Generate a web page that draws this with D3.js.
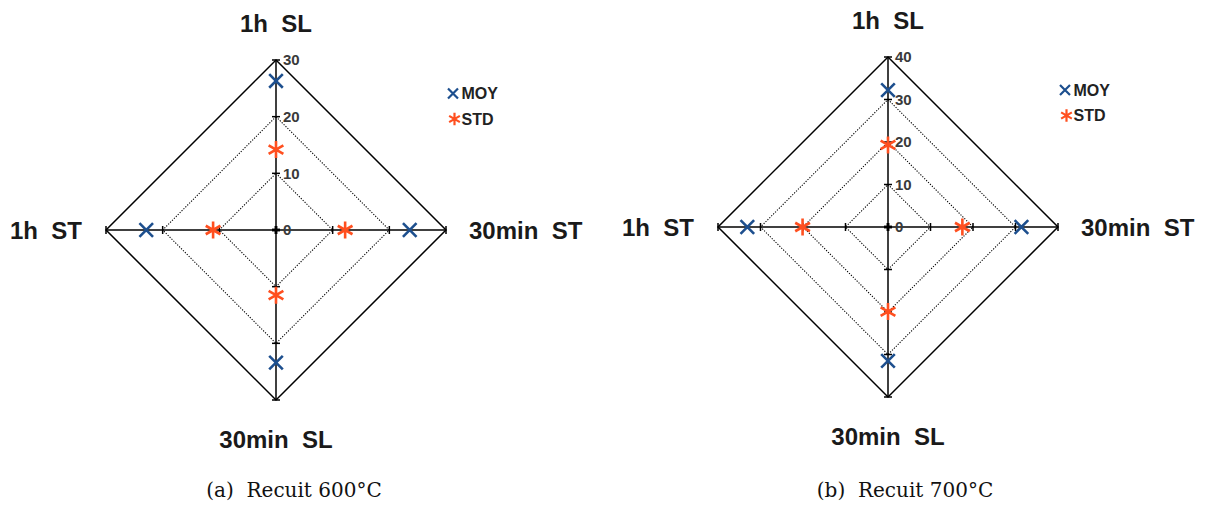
<!DOCTYPE html>
<html><head><meta charset="utf-8">
<script src="https://cdn.jsdelivr.net/npm/d3@7"></script>
<style>body{margin:0;background:#fff}svg{display:block}</style>
</head><body>
<svg id="c" width="1205" height="511"></svg>
<script>
// Axes clockwise from top
const categories = ["1h  SL", "30min  ST", "30min  SL", "1h  ST"];
const seriesNames = ["MOY", "STD"];
const moy600 = [26.3, 23.6, 23.4, 22.9];
const std600 = [14.2, 12.2, 11.5, 11.1];
const moy700 = [32.2, 31.4, 31.5, 33.1];
const std700 = [19.3, 17.5, 19.9, 20.1];
const ticks600 = [0, 10, 20, 30];
const ticks700 = [0, 10, 20, 30, 40];
const captions = ["(a)  Recuit 600°C", "(b)  Recuit 700°C"];

const charts = [
  {cx: 276, cy: 230, R: 170, ticks: ticks600, moy: moy600, std: std600, lx: 453, ly: 93.5, capx: 294, caption: captions[0]},
  {cx: 888, cy: 227, R: 170, ticks: ticks700, moy: moy700, std: std700, lx: 1065, ly: 90, capx: 905, caption: captions[1]}
];
const BLUE = "#1d4f8e", ORANGE = "#ff4f1f";
const SANS = "'Liberation Sans', Arial, sans-serif";
const svg = d3.select("#c");

function xMark(g, x, y, s, color, w) {
  g.append("path").attr("d", `M${x-s},${y-s}L${x+s},${y+s}M${x-s},${y+s}L${x+s},${y-s}`)
    .attr("stroke", color).attr("stroke-width", w).attr("fill", "none");
}
function starMark(g, x, y, s, color, w) {
  const d = [];
  for (let i = 0; i < 3; i++) {
    const a = Math.PI / 2 + i * Math.PI / 3;
    d.push(`M${x - s*Math.cos(a)},${y - s*Math.sin(a)}L${x + s*Math.cos(a)},${y + s*Math.sin(a)}`);
  }
  g.append("path").attr("d", d.join("")).attr("stroke", color).attr("stroke-width", w).attr("fill", "none");
}

charts.forEach(c => {
  const g = svg.append("g");
  const maxV = d3.max(c.ticks);
  const r = d3.scaleLinear().domain([0, maxV]).range([0, c.R]);
  const ang = d3.scaleLinear().domain([0, categories.length]).range([-Math.PI/2, 3*Math.PI/2]);
  const pt = (i, v) => [c.cx + r(v) * Math.cos(ang(i)), c.cy + r(v) * Math.sin(ang(i))];
  const line = d3.line().curve(d3.curveLinearClosed);

  // grid diamonds
  c.ticks.filter(t => t > 0).forEach(t => {
    g.append("path").attr("d", line(categories.map((_, i) => pt(i, t))))
      .attr("fill", "none")
      .attr("stroke", "#000")
      .attr("stroke-width", t === maxV ? 1.5 : 1.1)
      .attr("stroke-dasharray", t === maxV ? null : "1.2,1.5");
  });
  // spokes
  categories.forEach((_, i) => {
    const [x, y] = pt(i, maxV);
    g.append("line").attr("x1", c.cx).attr("y1", c.cy).attr("x2", x).attr("y2", y)
      .attr("stroke", "#000").attr("stroke-width", 1.5);
    c.ticks.forEach(t => {
      const [tx, ty] = pt(i, t);
      const a = ang(i) + Math.PI / 2, s = 4;
      g.append("line").attr("x1", tx - s*Math.cos(a)).attr("y1", ty - s*Math.sin(a))
        .attr("x2", tx + s*Math.cos(a)).attr("y2", ty + s*Math.sin(a))
        .attr("stroke", "#000").attr("stroke-width", t === 0 ? 2.5 : 1.5);
    });
  });
  // value labels
  c.ticks.forEach(t => {
    const [tx, ty] = pt(0, t);
    g.append("text").attr("x", tx + 7).attr("y", ty).attr("dy", "0.36em")
      .attr("font-family", SANS).attr("font-weight", "bold")
      .attr("font-size", 15).attr("fill", "#3a3a3a").text(t);
  });
  // category labels
  const lab = (x, y, anchor, txt) => g.append("text").attr("x", x).attr("y", y)
    .attr("text-anchor", anchor).attr("font-family", SANS).attr("font-weight", "bold")
    .attr("font-size", 24).attr("fill", "#1a1a1a").style("white-space", "pre").text(txt);
  lab(c.cx, c.cy - c.R - 28, "middle", categories[0]);
  lab(c.cx + c.R + 23, c.cy + 8.5, "start", categories[1]);
  lab(c.cx, c.cy + c.R + 47.5, "middle", categories[2]);
  lab(c.cx - c.R - 24, c.cy + 8.5, "end", categories[3]);

  // markers
  c.moy.forEach((v, i) => { const [x, y] = pt(i, v); xMark(g, x, y, 6.8, BLUE, 2.6); });
  c.std.forEach((v, i) => { const [x, y] = pt(i, v); starMark(g, x, y, 8.5, ORANGE, 2.6); });

  // legend
  xMark(g, c.lx, c.ly, 5, BLUE, 2.2);
  starMark(g, c.lx + 1.5, c.ly + 25.5, 6.2, ORANGE, 2.2);
  [0, 1].forEach(k => g.append("text").attr("x", c.lx + 8.5).attr("y", c.ly + k * 25.5).attr("dy", "0.36em")
    .attr("font-family", SANS).attr("font-weight", "bold").attr("font-size", 16).attr("fill", "#222")
    .text(seriesNames[k]));

  // caption
  g.append("text").attr("x", c.capx).attr("y", 496.5).attr("text-anchor", "middle")
    .attr("font-family", "'DejaVu Serif', serif").attr("font-size", 20).attr("fill", "#111")
    .style("white-space", "pre").text(c.caption);
});
</script>
</body></html>
